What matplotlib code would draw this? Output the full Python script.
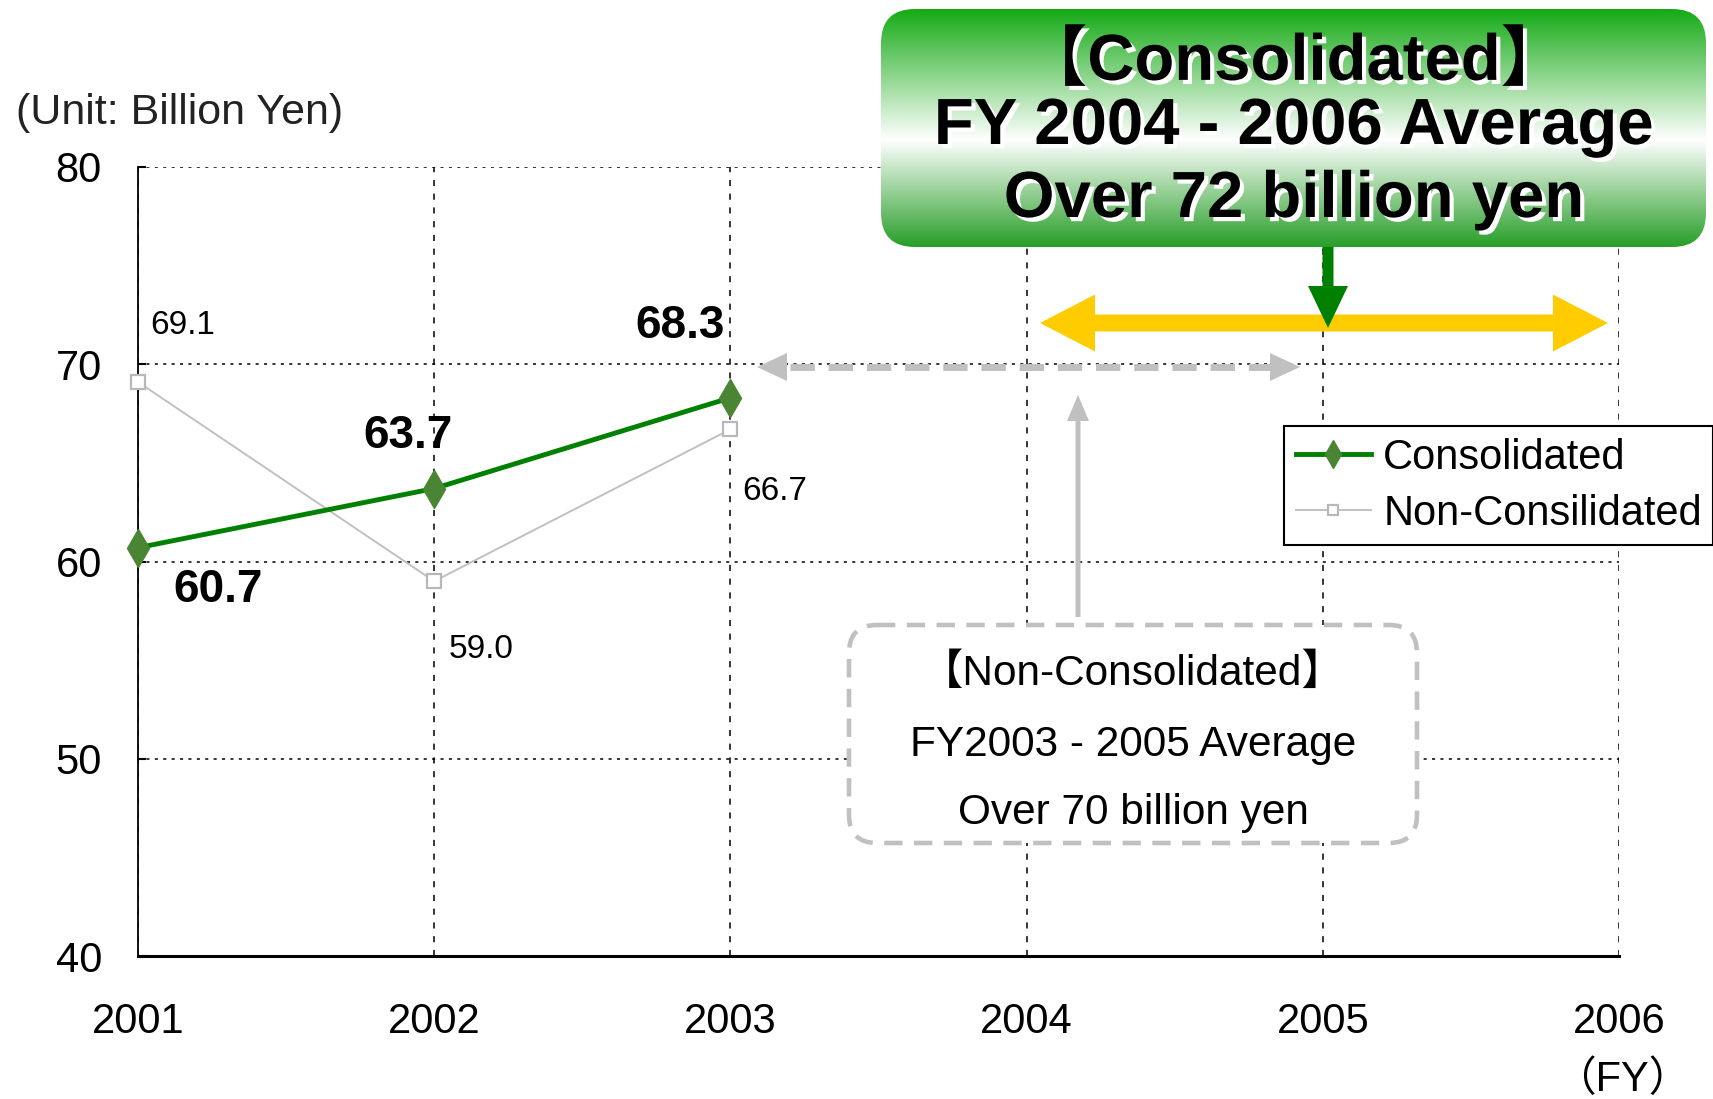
import numpy as np
import matplotlib
matplotlib.use("Agg")
import matplotlib.pyplot as plt
import matplotlib.font_manager as fm
import matplotlib.patheffects as pe
from matplotlib.patches import FancyBboxPatch, FancyArrow

# data
years = [2001, 2002, 2003]
consolidated = [60.7, 63.7, 68.3]
non_consolidated = [69.1, 59.0, 66.7]
year_ticks = [2001, 2002, 2003, 2004, 2005, 2006]
value_ticks = [40, 50, 60, 70, 80]

# where the value labels sit (data coords)
cons_label_pos = [(2001.27, 58.55), (2001.91, 66.35), (2002.83, 71.95)]
non_label_pos = [(2001.15, 71.95), (2002.16, 55.55), (2003.15, 63.55)]

names = {f.name for f in fm.fontManager.ttflist}
NARROW = 'Liberation Sans Narrow' if 'Liberation Sans Narrow' in names else 'Liberation Sans'
SANS = 'Liberation Sans'
CJK = 'Noto Sans CJK JP'
plt.rcParams['font.family'] = [SANS, CJK, 'DejaVu Sans']

W, H = 1713, 1099
fig = plt.figure(figsize=(W / 100, H / 100), dpi=100)
ax = fig.add_axes([138 / W, 1 - 956 / H, 1481 / W, 789 / H])

ax.set_xlim(2001, 2006)
ax.set_ylim(40, 80)
ax.set_xticks(year_ticks)
ax.set_yticks(value_ticks)
ax.set_xticklabels([str(y) for y in year_ticks], family=[NARROW, SANS], fontsize=33.5 if NARROW != SANS else 30)
ax.set_yticklabels([str(v) for v in value_ticks], fontsize=30)
ax.tick_params(axis='x', length=0, pad=33)
ax.tick_params(axis='y', direction='in', length=6, width=1.5, pad=26)

for s in ['top', 'right']:
    ax.spines[s].set_visible(False)
ax.spines['left'].set_linewidth(1.3)
ax.spines['bottom'].set_linewidth(2.2)

ax.yaxis.grid(True, linestyle=(0, (2, 3.5)), color='black', lw=1.1)
ax.xaxis.grid(True, linestyle=(0, (4, 5)), color='black', lw=1.1)
ax.set_axisbelow(True)

ax.plot(years, non_consolidated, color='#c0c0c0', lw=1.4, marker='s', ms=10,
        mfc='white', mec='#b8b8b8', mew=1.6, clip_on=False, zorder=3,
        label='Non-Consilidated')
ax.plot(years, consolidated, color='#008000', lw=3.5, marker='d', ms=19,
        mfc='#4a8534', mec='#4a8534', clip_on=False, zorder=4,
        label='Consolidated')

for v, (x, y) in zip(consolidated, cons_label_pos):
    ax.text(x, y, f"{v:.1f}", fontsize=33, fontweight='bold', ha='center', va='center')
for v, (x, y) in zip(non_consolidated, non_label_pos):
    ax.text(x, y, f"{v:.1f}", fontsize=24, ha='center', va='center')

h, l = ax.get_legend_handles_labels()
leg = ax.legend(h[::-1], l[::-1], loc='upper left', bbox_to_anchor=(1284 / W, 1 - 426 / H),
                bbox_transform=fig.transFigure, fontsize=30, frameon=True, fancybox=False,
                framealpha=1, edgecolor='black', borderaxespad=0, borderpad=0.28,
                labelspacing=0.38, handlelength=1.8, handletextpad=0.3, markerscale=0.75)
leg.get_frame().set_linewidth(1.5)

# overlay in pixel coords for the call-out boxes and arrows
ov = fig.add_axes([0, 0, 1, 1], zorder=5)
ov.set_xlim(0, W)
ov.set_ylim(H, 0)
ov.axis('off')

ov.text(16, 113, "(Unit: Billion Yen)", fontsize=31, color='#222222', ha='left', va='center')
ov.text(1622, 1080, "（FY）", fontsize=30, family=[NARROW, CJK], ha='center', va='center')

# green gradient box
bx0, by0, bx1, by1 = 881, 9, 1706, 247
box = FancyBboxPatch((bx0, by0), bx1 - bx0, by1 - by0,
                     boxstyle="round,pad=0,rounding_size=34", fc='none', ec='none')
ov.add_patch(box)
t = np.linspace(0, 1, 200)
top_c = np.array([22, 170, 22]) / 255
bot_c = np.array([40, 158, 40]) / 255
white = np.ones(3)
grad = np.zeros((200, 1, 3))
for i, tt in enumerate(t):
    if tt < 0.55:
        f = tt / 0.55
        grad[i, 0] = top_c * (1 - f) + white * f
    else:
        f = (tt - 0.55) / 0.45
        grad[i, 0] = white * (1 - f) + bot_c * f
im = ov.imshow(grad, extent=(bx0, bx1, by1, by0), aspect='auto', zorder=6)
im.set_clip_path(box)
ov.set_xlim(0, W)
ov.set_ylim(H, 0)

shadow = [pe.withSimplePatchShadow(offset=(3, -3), shadow_rgbFace='white', alpha=1.0)]
cx = (bx0 + bx1) / 2
ov.text(cx, 62, "【Consolidated】", fontsize=47, fontweight='bold', ha='center', va='center',
        zorder=7, path_effects=shadow, family=[SANS, CJK])
ov.text(cx, 127, "FY 2004 - 2006 Average", fontsize=47, fontweight='bold', ha='center',
        va='center', zorder=7, path_effects=shadow)
ov.text(cx, 200, "Over 72 billion yen", fontsize=47, fontweight='bold', ha='center',
        va='center', zorder=7, path_effects=shadow)

# yellow double arrow (two halves from the middle)
ymid = 323
xm = (1040 + 1608) / 2
for tip in (1040, 1608):
    ov.add_patch(FancyArrow(xm, ymid, tip - xm, 0, width=17, head_width=57, head_length=55,
                            length_includes_head=True, color='#ffcc00', lw=0, zorder=6))

# green pointer arrow
ov.add_patch(FancyArrow(1328, 247, 0, 81, width=11, head_width=40, head_length=42,
                        length_includes_head=True, color='#008000', lw=0, zorder=7))

# gray dashed double arrow
gy = 367
ov.plot([790, 1270], [gy, gy], color='#c0c0c0', lw=5, linestyle=(0, (3.5, 2)),
        solid_capstyle='butt', dash_capstyle='butt', zorder=6)
ov.add_patch(FancyArrow(787, gy, -30, 0, width=0, head_width=28, head_length=30,
                        length_includes_head=True, color='#c0c0c0', lw=0, zorder=6))
ov.add_patch(FancyArrow(1270, gy, 30, 0, width=0, head_width=28, head_length=30,
                        length_includes_head=True, color='#c0c0c0', lw=0, zorder=6))

# gray vertical arrow
ov.add_patch(FancyArrow(1078, 617, 0, -222, width=5, head_width=22, head_length=26,
                        length_includes_head=True, color='#c0c0c0', lw=0, zorder=6))

# dashed non-consolidated box
nbox = FancyBboxPatch((849, 625), 1417 - 849, 843 - 625,
                      boxstyle="round,pad=0,rounding_size=28", fc='white', ec='#c0c0c0',
                      lw=3.3, linestyle=(0, (4, 2.5)), zorder=6)
ov.add_patch(nbox)
ncx = (849 + 1417) / 2
ov.text(ncx, 674, "【Non-Consolidated】", fontsize=30.5, ha='center', va='center', zorder=7)
ov.text(ncx, 745, "FY2003 - 2005 Average", fontsize=30.5, ha='center', va='center', zorder=7)
ov.text(ncx, 813, "Over 70 billion yen", fontsize=30.5, ha='center', va='center', zorder=7)

fig.savefig("out.png", dpi=100)
